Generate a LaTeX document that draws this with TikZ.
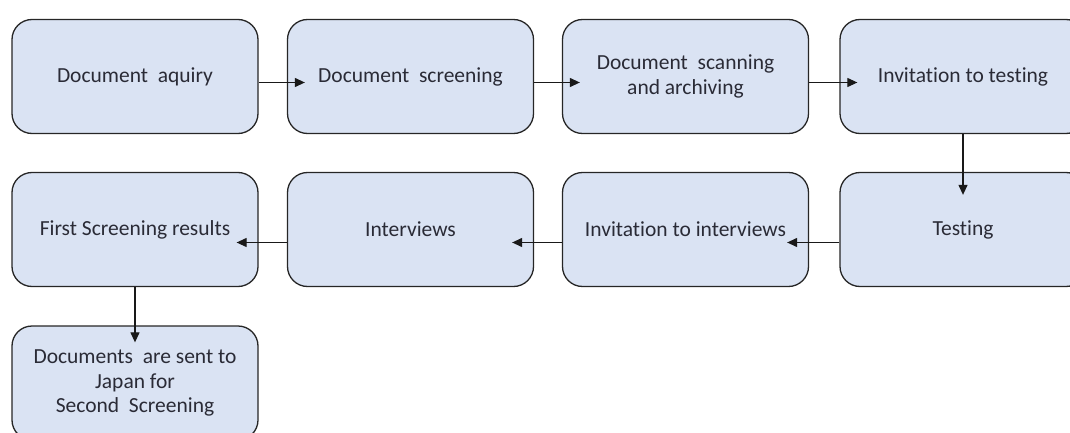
\documentclass[tikz,border=0pt]{standalone}
\usepackage{fontspec}
\setmainfont{Carlito}[Ligatures=NoCommon]
\usepackage{xcolor}
\usepackage{tikz}
\usetikzlibrary{shapes,arrows.meta,positioning,calc}
\definecolor{paleblue}{HTML}{DAE3F3}
\definecolor{inkgray}{HTML}{2A2B36}
\tikzset{
    stepbox/.style={draw=black!85, line width=1.3pt, fill=paleblue, rectangle,
        rounded corners=20pt, minimum width=246pt, minimum height=114pt,
        align=center, text=inkgray, font=\fontsize{21.5}{24.5}\selectfont},
    flow/.style={-{Triangle[length=10pt,width=9pt]}, line width=1.2pt, black!90}
}
\begin{document}
\begin{tikzpicture}[x=1pt, y=-1pt]
            \useasboundingbox (0,0) rectangle (1070,433);
            \clip (0,0) rectangle (1070,433);
            % first row
            \node[stepbox] (s1) at (135,76.5) {Document\ \ aquiry};
            \node[stepbox] (s2) at (410.5,76.5) {Document\ \ screening};
            \node[stepbox] (s3) at (685.5,76.5) {Document\ \ scanning\\and archiving};
            \node[stepbox] (s4) at (963,76.5) {Invitation to testing};

            % second row
            \node[stepbox] (s5) at (963,229.5) {Testing};
            \node[stepbox] (s6) at (685.5,229.5) {Invitation to interviews};
            \node[stepbox] (s7) at (410.5,229.5) {Interviews};
            \node[stepbox] (s8) at (135,229.5) {First Screening results};

            % last one
            \node[stepbox] (s9) at (135,383) {Documents\ \ are sent to\\Japan for\\Second\ \ Screening};

            % Flow
            \draw[flow] ([yshift=-6pt]s1.east) -- ([xshift=18pt,yshift=-6pt]s2.west);
            \draw[flow] ([yshift=-6pt]s2.east) -- ([xshift=18pt,yshift=-6pt]s3.west);
            \draw[flow] ([yshift=-6pt]s3.east) -- ([xshift=18pt,yshift=-6pt]s4.west);
            \draw[flow] (s4.south) -- ([yshift=-23pt]s5.north);
            \draw[flow] ([yshift=-13pt]s5.west) -- ([xshift=-22pt,yshift=-13pt]s6.east);
            \draw[flow] ([yshift=-13pt]s6.west) -- ([xshift=-22pt,yshift=-13pt]s7.east);
            \draw[flow] ([yshift=-13pt]s7.west) -- ([xshift=-22pt,yshift=-13pt]s8.east);
            \draw[flow] (s8.south) -- ([yshift=-17pt]s9.north);

\end{tikzpicture}
\end{document}
